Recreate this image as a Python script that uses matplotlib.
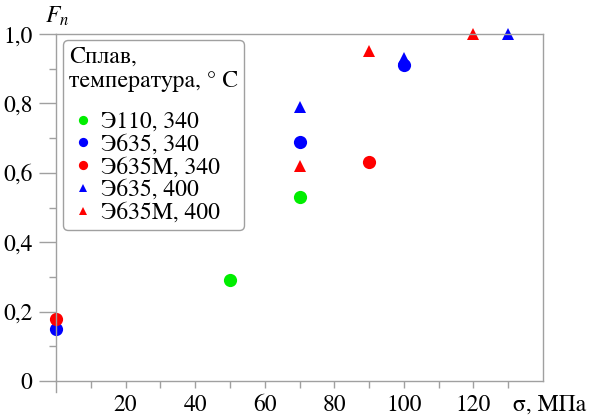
import matplotlib.pyplot as plt
import matplotlib.ticker as mticker

# data
e110_340_x = [50, 70]
e110_340_y = [0.29, 0.53]
e635_340_x = [0, 70, 100]
e635_340_y = [0.15, 0.69, 0.91]
e635m_340_x = [0, 90]
e635m_340_y = [0.18, 0.63]
e635_400_x = [70, 100, 130]
e635_400_y = [0.79, 0.93, 1.0]
e635m_400_x = [70, 90, 120]
e635m_400_y = [0.62, 0.95, 1.0]

xticks = [20, 40, 60, 80, 100, 120]
yticks = [0, 0.2, 0.4, 0.6, 0.8, 1.0]
ylabels = ['0', '0,2', '0,4', '0,6', '0,8', '1,0']

plt.rcParams['font.family'] = ['STIXGeneral', 'DejaVu Serif']
plt.rcParams['mathtext.fontset'] = 'stix'
grey = '#a0a0a0'
fs = 17

fig = plt.figure(figsize=(5.91, 4.16), dpi=100)
ax = fig.add_axes([56/591, 1-381/416, (543-56)/591, (381-34)/416])

ax.plot(e110_340_x, e110_340_y, 'o', color='#00ee00', ms=9.5, mew=0, clip_on=False, label='Э110, 340')
ax.plot(e635_340_x, e635_340_y, 'o', color='#0000ff', ms=9.5, mew=0, clip_on=False, label='Э635, 340')
ax.plot(e635m_340_x, e635m_340_y, 'o', color='#ff0000', ms=9.5, mew=0, clip_on=False, label='Э635М, 340')
ax.plot(e635_400_x, e635_400_y, '^', color='#0000ff', ms=8.5, mew=0, clip_on=False, label='Э635, 400')
ax.plot(e635m_400_x, e635m_400_y, '^', color='#ff0000', ms=8.5, mew=0, clip_on=False, label='Э635М, 400')

ax.set_xlim(0, 140)
ax.set_ylim(0, 1.0)
ax.set_xticks(xticks)
ax.set_xticklabels([str(t) for t in xticks], fontfamily='STIXGeneral')
ax.xaxis.set_minor_locator(mticker.FixedLocator([10, 30, 50, 70, 90, 110, 130]))
ax.set_yticks(yticks)
ax.set_yticklabels(ylabels, fontfamily='STIXGeneral')
ax.yaxis.set_minor_locator(mticker.FixedLocator([0.1, 0.3, 0.5, 0.7, 0.9]))

for s in ax.spines.values():
    s.set_color(grey)
    s.set_linewidth(1)
ax.tick_params(axis='both', which='both', colors=grey, labelcolor='black', labelsize=fs, width=1)
ax.tick_params(axis='y', which='major', length=12, pad=5)
ax.tick_params(axis='y', which='minor', length=5)
ax.tick_params(axis='x', which='both', length=5, pad=5)
# y axis runs a bit below the origin
ax.plot([0, 0], [0, -0.032], color=grey, lw=1, clip_on=False, transform=ax.transAxes)

ax.text(-0.022, 1.052, '$F_n$', transform=ax.transAxes, fontsize=fs, ha='left', va='center')
ax.text((513-56)/487, -0.07, 'σ, МПа', transform=ax.transAxes, fontsize=fs, ha='left', va='center')

leg = ax.legend(loc='upper left', bbox_to_anchor=((63-56)/487, (381-40)/347),
                title='Сплав,\nтемпература, ° С', fontsize=fs, title_fontsize=fs,
                markerscale=0.7, handlelength=1.2, handletextpad=0.15, labelspacing=0.05,
                borderpad=0.25, borderaxespad=0, frameon=True, fancybox=True, framealpha=1)
leg._legend_box.align = 'left'
leg._legend_box.sep = 14
leg.get_frame().set_edgecolor(grey)
leg.get_frame().set_linewidth(1)

fig.savefig('out.png', dpi=100)
